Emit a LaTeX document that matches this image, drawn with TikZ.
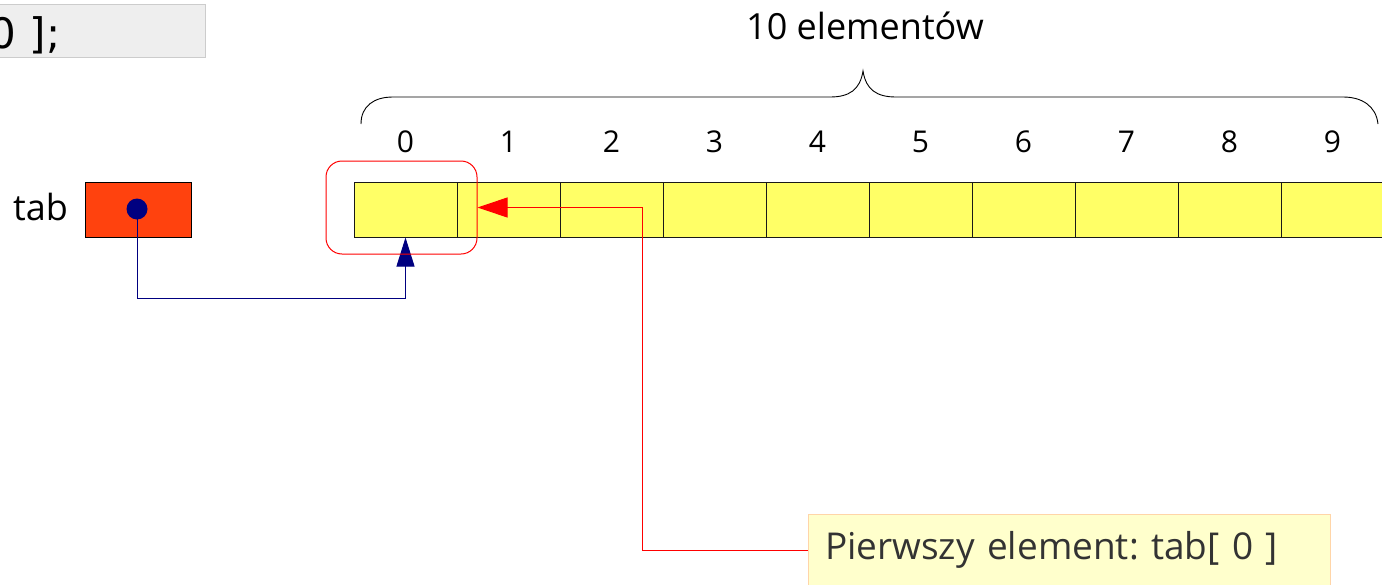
\documentclass[tikz,border=0pt]{standalone}
\usepackage{fontspec}
\setmainfont{Open Sans}
\newfontfamily\codefont{DejaVu Sans}
\usetikzlibrary{arrows.meta}
\definecolor{cellyellow}{HTML}{FFFF66}
\definecolor{ptrred}{HTML}{FF420E}
\definecolor{navyblue}{HTML}{000080}
\definecolor{notefill}{HTML}{FFFFCC}
\definecolor{noteline}{HTML}{FFD5A8}
\definecolor{codefill}{HTML}{EEEEEE}
\definecolor{codeline}{HTML}{CCCCCC}
\definecolor{textgray}{HTML}{333333}
\frenchspacing

\begin{document}
\begin{tikzpicture}[x=1pt,y=-1pt,
  cell/.style={draw=black!90, line width=1pt, fill=cellyellow,
    minimum width=103pt, minimum height=55pt, inner sep=0pt},
  idx/.style={font=\fontsize{30pt}{34pt}\selectfont, anchor=base, inner sep=0pt},
  bigtext/.style={font=\fontsize{36pt}{40pt}\selectfont, inner sep=0pt},
  ptrbox/.style={draw=black, line width=1pt, fill=ptrred,
    minimum width=106pt, minimum height=55pt, inner sep=0pt},
  highlight/.style={draw=red, line width=1pt, rounded corners=16pt,
    minimum width=151pt, minimum height=93pt, inner sep=0pt},
  notebox/.style={draw=noteline, fill=notefill, line width=1pt,
    minimum height=72pt, text width=488pt, inner xsep=17pt, align=left,
    font=\fontsize{37pt}{42pt}\selectfont, text=textgray},
  blueptr/.style={navyblue, line width=1pt, -{Triangle[width=18pt,length=29pt]}},
  redptr/.style={red, line width=1pt, -{Triangle[width=20pt,length=30pt]}}
]
\useasboundingbox (0,0) rectangle (1382,584);
\begin{scope}
\clip (0,0) rectangle (1382,584);

% code fragment in the grey box
\node[draw=codeline, fill=codefill, line width=1pt, minimum width=215pt,
      minimum height=53pt, inner sep=0pt] (codebox) at (98,30.5) {};
\node[anchor=base west, inner sep=0pt,
      font=\codefont\fontsize{42pt}{46pt}\selectfont] (code) at (-10.5,48) {0 ];};

% brace over the array
\draw[line width=0.9pt] (361,124) .. controls (361,106) and (374,97) .. (393,97)
  -- (830,97) .. controls (849,97) and (860,90) .. (863,71)
  .. controls (866,90) and (877,97) .. (896,97)
  -- (1343,97) .. controls (1362,97) and (1376,106) .. (1378,124);
\node[bigtext, anchor=base] (count) at (865,39) {10 elementów};

% array cells and their indices
\foreach \i in {0,...,9}{
  \node[cell] (c\i) at ({405.5+103*\i},209.5) {};
  \node[idx] (i\i) at ({405.5+103*\i},152) {\i};
}

% pointer variable
\node[bigtext, anchor=base west] (tablbl) at (13,220) {tab};
\node[ptrbox] (ptr) at (138,209.5) {};
\node[circle, fill=navyblue, minimum size=21pt, inner sep=0pt] (dot) at (137,209) {};

\coordinate (bb) at (137,298);
\draw[blueptr] (dot.center) -- (bb) -| (c0.south);

% first element highlight and note
\node[highlight] (hl) at (401.5,207.5) {};
\node[notebox] (note) at (1069,550) {Pierwszy element: tab[ 0 ]};
\coordinate (rb) at (642,550);
\draw[redptr] (note.west) -- (rb) |- (hl.east);
\end{scope}
\end{tikzpicture}
\end{document}
